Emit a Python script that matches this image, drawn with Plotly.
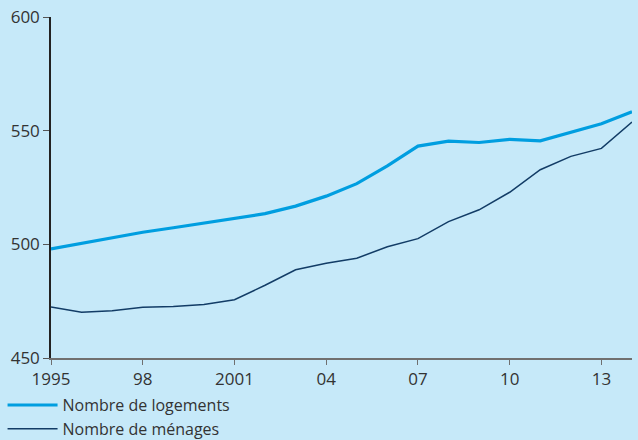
import plotly.graph_objects as go

years = list(range(1995, 2015))
logements = [498.0, 500.5, 503.0, 505.3, 507.3, 509.3, 511.3, 513.5, 516.8, 521.2,
             526.7, 534.5, 543.2, 545.4, 544.8, 546.2, 545.5, 549.1, 553.0, 558.3]
menages = [472.4, 470.1, 470.8, 472.3, 472.6, 473.5, 475.6, 482.0, 488.8, 491.7,
           493.9, 498.9, 502.5, 510.0, 515.2, 522.9, 532.8, 538.7, 542.2, 553.8]

tick_vals = [1995, 1998, 2001, 2004, 2007, 2010, 2013]
tick_text = ['1995', '98', '2001', '04', '07', '10', '13']

bg = '#c6e9f9'
font = 'Open Sans, Noto Sans, sans-serif'

fig = go.Figure()
fig.add_trace(go.Scatter(x=years, y=logements, mode='lines', name='Nombre de logements',
                         line=dict(color='#009ee0', width=3.2)))
fig.add_trace(go.Scatter(x=years, y=menages, mode='lines', name='Nombre de ménages',
                         line=dict(color='#123c66', width=1.5)))

fig.update_layout(
    width=638, height=440,
    paper_bgcolor=bg, plot_bgcolor=bg,
    margin=dict(l=51, r=6, t=17, b=82, autoexpand=False),
    font=dict(family=font, size=17, color='#333333'),
    showlegend=True,
    legend=dict(orientation='v', xref='container', yref='container', x=0.004, xanchor='left',
                y=0.118, yanchor='top', bgcolor='rgba(0,0,0,0)',
                font=dict(size=16, color='#333333'), tracegroupgap=0, itemwidth=50),
    annotations=[dict(text='(milliers)', xref='paper', yref='paper', x=0.455, y=1.04,
                      xanchor='center', yanchor='bottom', showarrow=False,
                      font=dict(size=15, color='#333333'))],
)
fig.update_xaxes(range=[1995, 2014], tickvals=tick_vals, ticktext=tick_text,
                 showgrid=False, zeroline=False, showline=True, linecolor='#707070',
                 linewidth=1.5, ticks='outside', ticklen=5, tickcolor='#707070')
fig.update_yaxes(range=[450, 600], tickvals=[450, 500, 550, 600],
                 showgrid=False, zeroline=False, showline=True, linecolor='#222222',
                 linewidth=1.5, ticks='outside', ticklen=6, tickcolor='#555555')

# page has a default 8px body margin; drop it so the chart fills the window
fig.write_html("out.html", config={'displayModeBar': False},
               post_script="document.body.style.margin='0';")
